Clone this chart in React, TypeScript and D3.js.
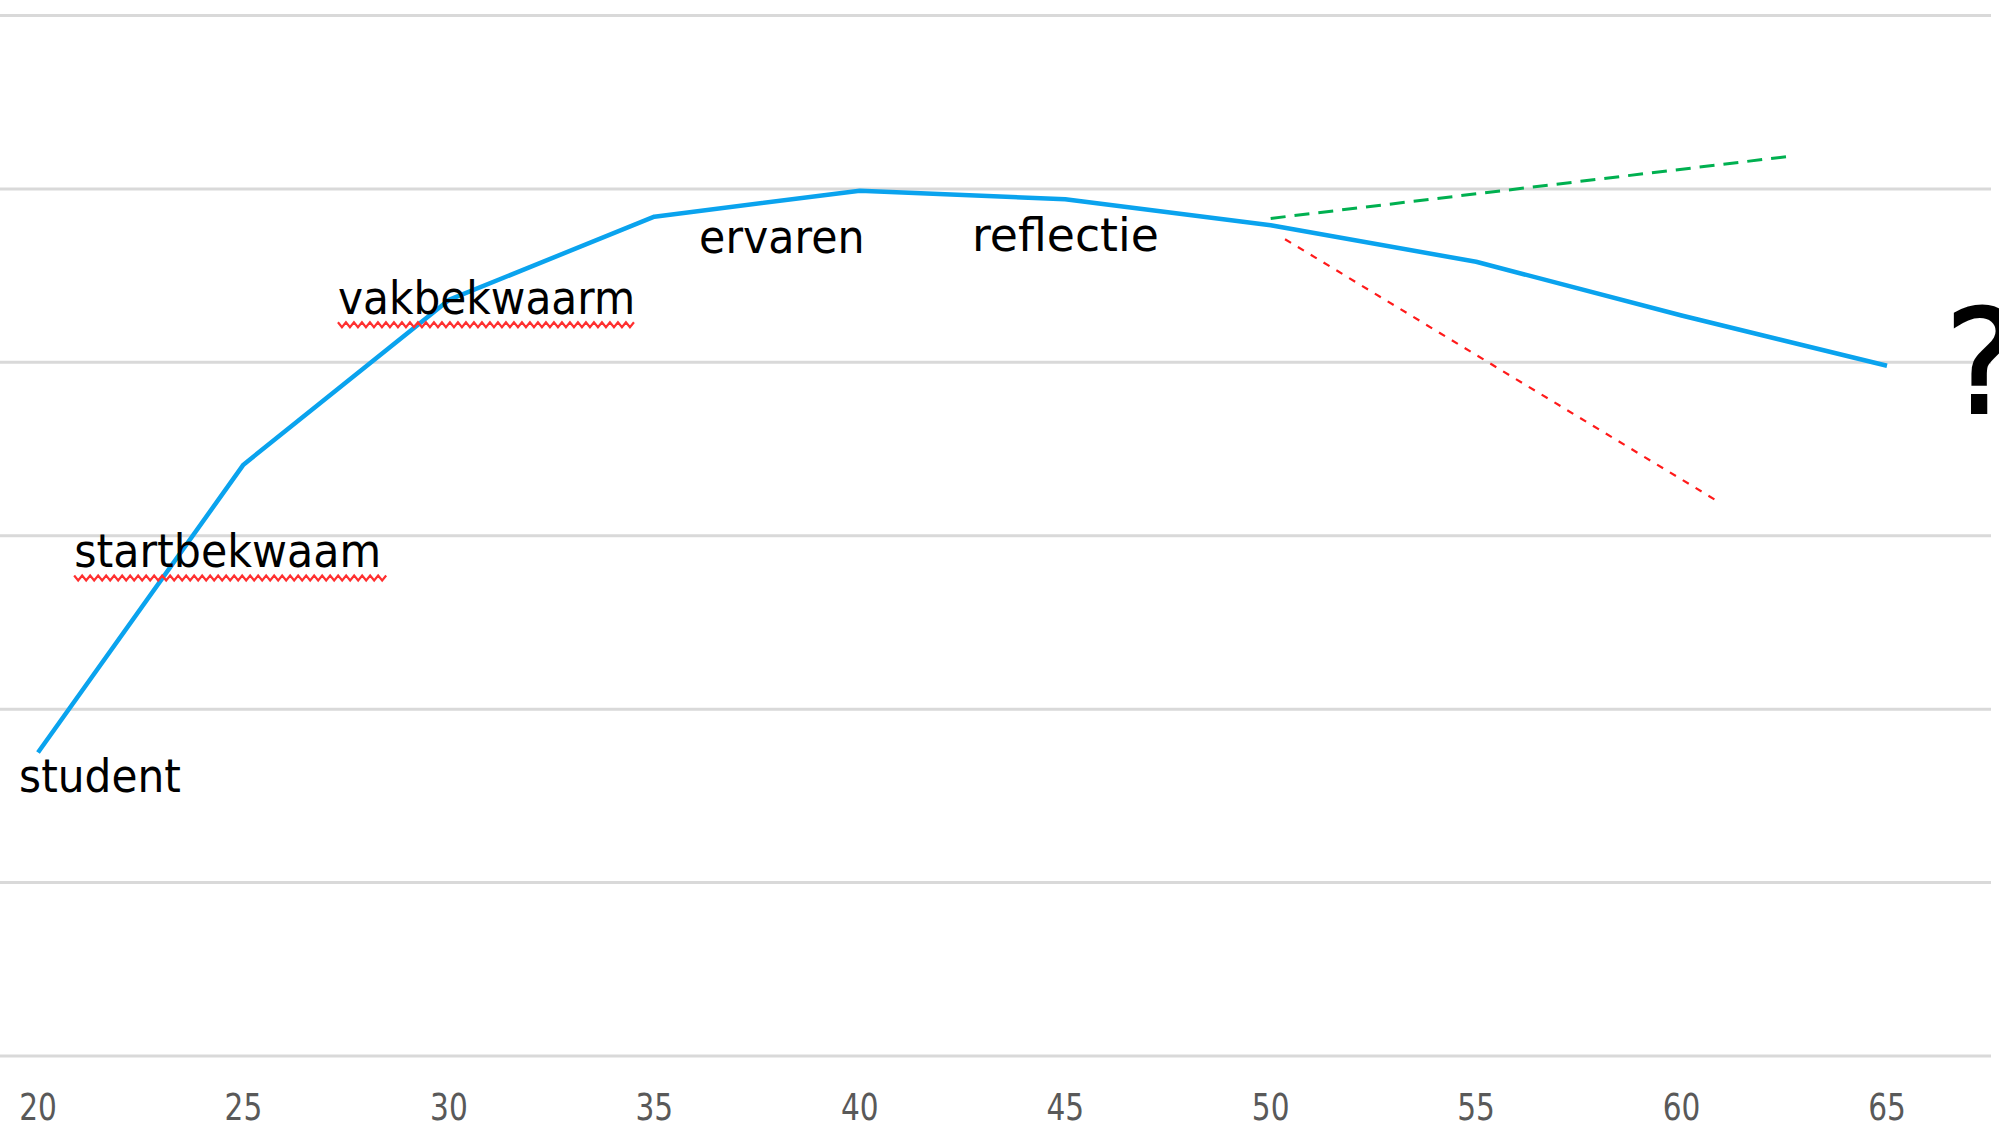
import React from "react";
import * as d3 from "d3";

const ages = [20, 25, 30, 35, 40, 45, 50, 55, 60, 65];
const competence = [1.75, 3.41, 4.36, 4.84, 4.99, 4.94, 4.79, 4.58, 4.27, 3.98];
const gridValues = [0, 1, 2, 3, 4, 5, 6];
const tickLabels = ["20", "25", "30", "35", "40", "45", "50", "55", "60", "65"];

const optimisticAges = [50.0, 62.7];
const optimisticValues = [4.83, 5.19];
const pessimisticAges = [50.35, 60.8];
const pessimisticValues = [4.71, 3.21];

const annotationTexts = ["student", "startbekwaam", "vakbekwaarm", "ervaren", "reflectie"];
const annotationAges = [19.54, 20.88, 27.3, 36.09, 42.73];
const annotationValues = [1.52, 2.82, 4.28, 4.63, 4.64];
const annotationSquiggle = [false, true, true, false, false];

const questionAge = 66.4;
const questionValue = 3.71;

const W = 1999;
const H = 1131;

export default function App() {
  const x = d3.scaleLinear().domain([20, 65]).range([38, 1887]);
  const y = d3.scaleLinear().domain([0, 6]).range([1056, 15.5]);

  const line = d3
    .line<number>()
    .x((_, i) => x(ages[i]))
    .y((d) => y(d));

  const seg = (xs: number[], ys: number[]) =>
    d3
      .line<number>()
      .x((_, i) => x(xs[i]))
      .y((d) => y(d))(ys) as string;

  const squiggle = (x0: number, x1: number, yy: number) => {
    const pts: [number, number][] = [];
    const step = 4;
    let k = 0;
    for (let px = x0; px <= x1; px += step, k++) {
      pts.push([px, yy + (k % 2 === 0 ? -2.5 : 2.5)]);
    }
    return d3.line()(pts) as string;
  };

  const fontFamily = "'DejaVu Sans', Verdana, sans-serif";
  const annFont = 46;
  const annScales: Record<string, number> = {
    student: 0.92,
    startbekwaam: 0.93,
    vakbekwaarm: 0.92,
    ervaren: 0.93,
    reflectie: 0.995,
  };
  // approximate per-text widths (em) for DejaVu Sans
  const emWidths: Record<string, number> = {
    startbekwaam: 7.176,
    vakbekwaarm: 6.88,
  };

  return (
    <div style={{ position: "fixed", left: 0, top: 0, width: W, height: H, background: "#fff" }}>
      <svg width={W} height={H} style={{ display: "block" }}>
        <rect width={W} height={H} fill="#fff" />
        {gridValues.map((g) => (
          <line
            key={g}
            x1={0}
            x2={1991}
            y1={y(g)}
            y2={y(g)}
            stroke="#d9d9d9"
            strokeWidth={3}
          />
        ))}
        {ages.map((a, i) => (
          <text
            key={a}
            transform={`translate(${x(a)},${1120}) scale(0.8,1)`}
            textAnchor="middle"
            fontFamily={fontFamily}
            fontSize={37}
            fill="#595959"
          >
            {tickLabels[i]}
          </text>
        ))}
        <path
          d={line(competence) as string}
          fill="none"
          stroke="#0aa3ee"
          strokeWidth={4.5}
          strokeLinejoin="round"
        />
        <path
          d={seg(optimisticAges, optimisticValues)}
          fill="none"
          stroke="#00b050"
          strokeWidth={3}
          strokeDasharray="15 9"
        />
        <path
          d={seg(pessimisticAges, pessimisticValues)}
          fill="none"
          stroke="#ff1a1a"
          strokeWidth={2.2}
          strokeDasharray="7 8"
        />
        {annotationTexts.map((t, i) => {
          const lx = x(annotationAges[i]);
          const ly = y(annotationValues[i]);
          const sc = annScales[t] ?? 0.92;
          const width = (emWidths[t] || 0) * annFont * sc;
          return (
            <g key={t}>
              <text
                transform={`translate(${lx},${ly}) scale(${sc},1)`}
                fontFamily={fontFamily}
                fontSize={annFont}
                fill="#000"
              >
                {t}
              </text>
              {annotationSquiggle[i] && (
                <path
                  d={squiggle(lx, lx + width + 6, ly + 11)}
                  fill="none"
                  stroke="#ff3030"
                  strokeWidth={2.2}
                />
              )}
            </g>
          );
        })}
        <text
          x={x(questionAge)}
          y={y(questionValue)}
          fontFamily={fontFamily}
          fontSize={144}
          fill="#000"
          stroke="#000"
          strokeWidth={2}
        >
          ?
        </text>
      </svg>
    </div>
  );
}
